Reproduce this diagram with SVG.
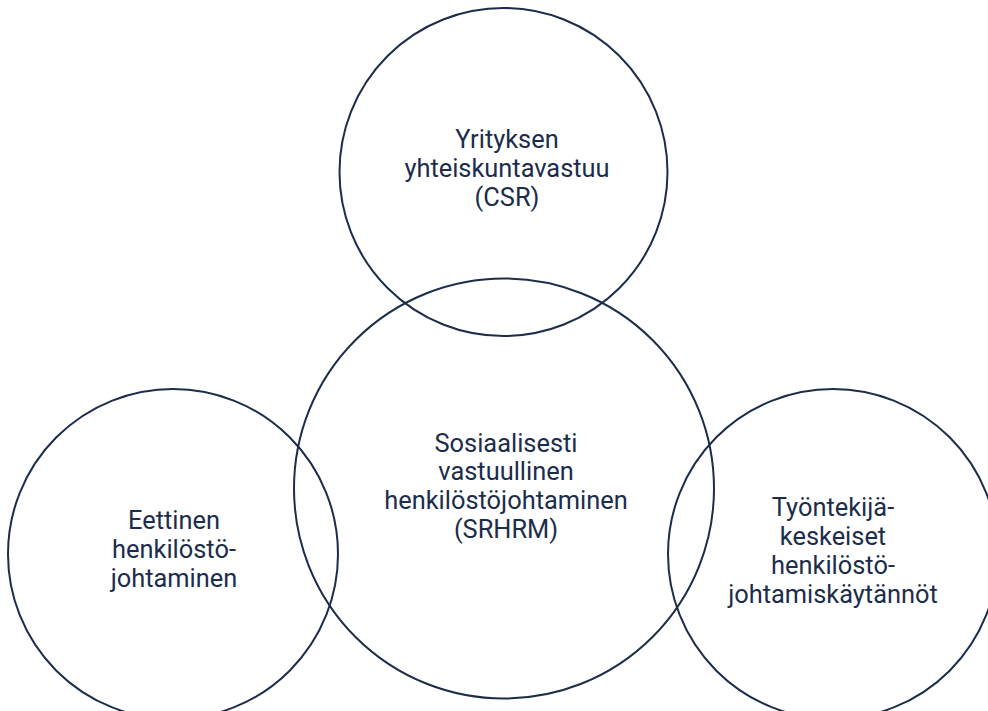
<svg xmlns="http://www.w3.org/2000/svg" width="988" height="711" viewBox="0 0 988 711">
<style>
.c{fill:none;stroke:#1b2d4b;stroke-width:2}
.t{font-family:Roboto,"Liberation Sans",sans-serif;font-size:25.4px;fill:#1b2d4b;text-anchor:middle}
</style>
<rect width="988" height="711" fill="#ffffff"/>
<g id="csr">
<circle class="c" cx="503.5" cy="172" r="164"/>
<text class="t"><tspan x="507" y="148">Yrityksen</tspan><tspan x="507" y="177">yhteiskuntavastuu</tspan><tspan x="507" y="206">(CSR)</tspan></text>
</g>
<g id="srhrm">
<circle class="c" cx="504" cy="488.5" r="210"/>
<text class="t"><tspan x="506" y="451.5">Sosiaalisesti</tspan><tspan x="506" y="480.3">vastuullinen</tspan><tspan x="506" y="509.1">henkilöstöjohtaminen</tspan><tspan x="506" y="537.9">(SRHRM)</tspan></text>
</g>
<g id="ethical">
<circle class="c" cx="173" cy="554" r="165"/>
<text class="t"><tspan x="174" y="529">Eettinen</tspan><tspan x="174" y="558">henkilöstö-</tspan><tspan x="174" y="587">johtaminen</tspan></text>
</g>
<g id="employee">
<circle class="c" cx="833" cy="554" r="165"/>
<text class="t"><tspan x="833" y="515.5">Työntekijä-</tspan><tspan x="833" y="544.5">keskeiset</tspan><tspan x="833" y="573.5">henkilöstö-</tspan><tspan x="833" y="602.5">johtamiskäytännöt</tspan></text>
</g>
<g id="connectors"></g>
</svg>
